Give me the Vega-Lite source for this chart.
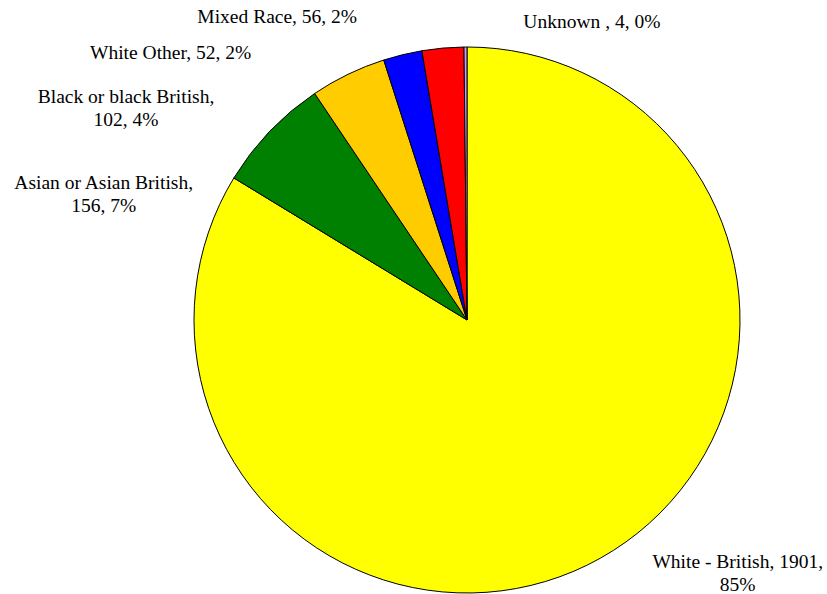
{
  "$schema": "https://vega.github.io/schema/vega-lite/v6.json",
  "autosize": "none",
  "width": 546,
  "height": 546,
  "padding": {"left": 194, "top": 47, "right": 87, "bottom": 1},
  "background": "white",
  "config": {"view": {"stroke": null}},
  "data": {
    "values": [
      {"group": "White - British", "count": 1901, "o": 1, "label": "White - British, 1901,\n85%"},
      {"group": "Asian or Asian British", "count": 156, "o": 2, "label": "Asian or Asian British,\n156, 7%"},
      {"group": "Black or black British", "count": 102, "o": 3, "label": "Black or black British,\n102, 4%"},
      {"group": "White Other", "count": 52, "o": 4, "label": "White Other, 52, 2%"},
      {"group": "Mixed Race", "count": 56, "o": 5, "label": "Mixed Race, 56, 2%"},
      {"group": "Unknown", "count": 4, "o": 6, "label": "Unknown , 4, 0%"}
    ]
  },
  "encoding": {
    "theta": {"field": "count", "type": "quantitative", "stack": true},
    "order": {"field": "o", "type": "quantitative"}
  },
  "layer": [
    {
      "mark": {"type": "arc", "stroke": "black", "strokeWidth": 1},
      "encoding": {
        "color": {
          "field": "group",
          "type": "nominal",
          "scale": {
            "domain": ["White - British", "Asian or Asian British", "Black or black British", "White Other", "Mixed Race", "Unknown"],
            "range": ["#FFFF00", "#008000", "#FFCC00", "#0000FF", "#FF0000", "#CC99FF"]
          },
          "legend": null
        }
      }
    },
    {
      "mark": {"type": "text", "font": "Liberation Serif", "fontSize": 19.5, "color": "black", "lineBreak": "\n", "lineHeight": 23, "radius": 304, "dx": -83, "align": "right", "baseline": "middle"},
      "encoding": {"text": {"condition": {"test": "datum.group === 'Mixed Race'", "field": "label"}, "value": ""}}
    },
    {
      "mark": {"type": "text", "font": "Liberation Serif", "fontSize": 19.5, "color": "black", "lineBreak": "\n", "lineHeight": 23, "radius": 298, "dx": 58, "align": "left", "baseline": "middle"},
      "encoding": {"text": {"condition": {"test": "datum.group === 'Unknown'", "field": "label"}, "value": ""}}
    },
    {
      "mark": {"type": "text", "font": "Liberation Serif", "fontSize": 19.5, "color": "black", "lineBreak": "\n", "lineHeight": 23, "radius": 275, "dx": -151, "align": "right", "baseline": "middle"},
      "encoding": {"text": {"condition": {"test": "datum.group === 'White Other'", "field": "label"}, "value": ""}}
    },
    {
      "mark": {"type": "text", "font": "Liberation Serif", "fontSize": 19.5, "color": "black", "lineBreak": "\n", "lineHeight": 23, "radius": 273, "dx": -222, "dy": 23, "align": "center", "baseline": "middle"},
      "encoding": {"text": {"condition": {"test": "datum.group === 'Black or black British'", "field": "label"}, "value": ""}}
    },
    {
      "mark": {"type": "text", "font": "Liberation Serif", "fontSize": 19.5, "color": "black", "lineBreak": "\n", "lineHeight": 23, "radius": 273, "dx": -166, "dy": 52, "align": "center", "baseline": "middle"},
      "encoding": {"text": {"condition": {"test": "datum.group === 'Asian or Asian British'", "field": "label"}, "value": ""}}
    },
    {
      "mark": {"type": "text", "font": "Liberation Serif", "fontSize": 19.5, "color": "black", "lineBreak": "\n", "lineHeight": 23, "radius": 273, "dx": 137, "dy": 4, "align": "center", "baseline": "middle"},
      "encoding": {"text": {"condition": {"test": "datum.group === 'White - British'", "field": "label"}, "value": ""}}
    }
  ]
}
